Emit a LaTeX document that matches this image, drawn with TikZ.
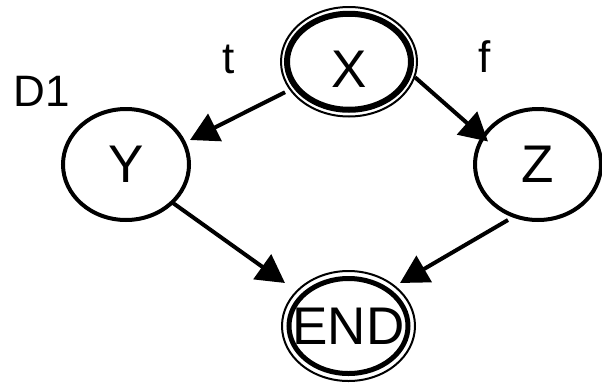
\documentclass[tikz,border=0pt]{standalone}
\usepackage{fontspec}
\setmainfont{Liberation Sans}
\usetikzlibrary{shapes.geometric,arrows.meta}
\begin{document}
\begin{tikzpicture}[x=1pt,y=-1pt,
  big/.style={font=\fontsize{53}{60}\selectfont},
  small/.style={font=\fontsize{44}{50}\selectfont,inner sep=0pt},
  state/.style={ellipse,draw,inner sep=0pt,outer sep=0pt,big},
  plain/.style={state,line width=4pt,minimum width=126pt,minimum height=111pt},
  ring/.style={ellipse,draw,line width=2pt,inner sep=0pt,outer sep=0pt},
  arr/.style={line width=4pt,-{Triangle[length=28pt,width=30pt]}}
]
\useasboundingbox (0,0) rectangle (602,383);
% start node X (double border)
\node[ring,minimum width=136pt,minimum height=109.5pt] (Xo) at (349,61.75) {};
\node[state,line width=6pt,minimum width=124pt,minimum height=96pt] (X) at (349,61.75) {\raisebox{-26pt}[0pt][0pt]{X}};
% Y and Z
\node[plain] (Y) at (126,164.5) {\makebox[0pt]{Y}};
\node[plain] (Z) at (538,164.5) {\makebox[0pt]{Z}};
% END (double border)
\node[ring,minimum width=133pt,minimum height=110pt] (Eo) at (348.5,326) {};
\node[state,line width=5pt,minimum width=119pt,minimum height=95pt] (E) at (348.5,326) {\makebox[0pt]{END}};
% labels
\node[small] (D) at (42,91) {D1};
\node[small] (t) at (228.5,59.5) {t};
\node[small] (f) at (485,56.5) {f};
% connectors
\draw[arr] ([shift={(-64,30.5)}]X.center) -- ([shift={(64,-24.5)}]Y.center);
\draw[arr] ([shift={(66,15.5)}]X.center) -- ([shift={(-50,-23)}]Z.center);
\draw[arr] ([shift={(47,38.5)}]Y.center) -- ([shift={(-63.5,-43)}]E.center);
\draw[arr] ([shift={(-30,55.5)}]Z.center) -- ([shift={(51.5,-43)}]E.center);
\end{tikzpicture}
\end{document}
